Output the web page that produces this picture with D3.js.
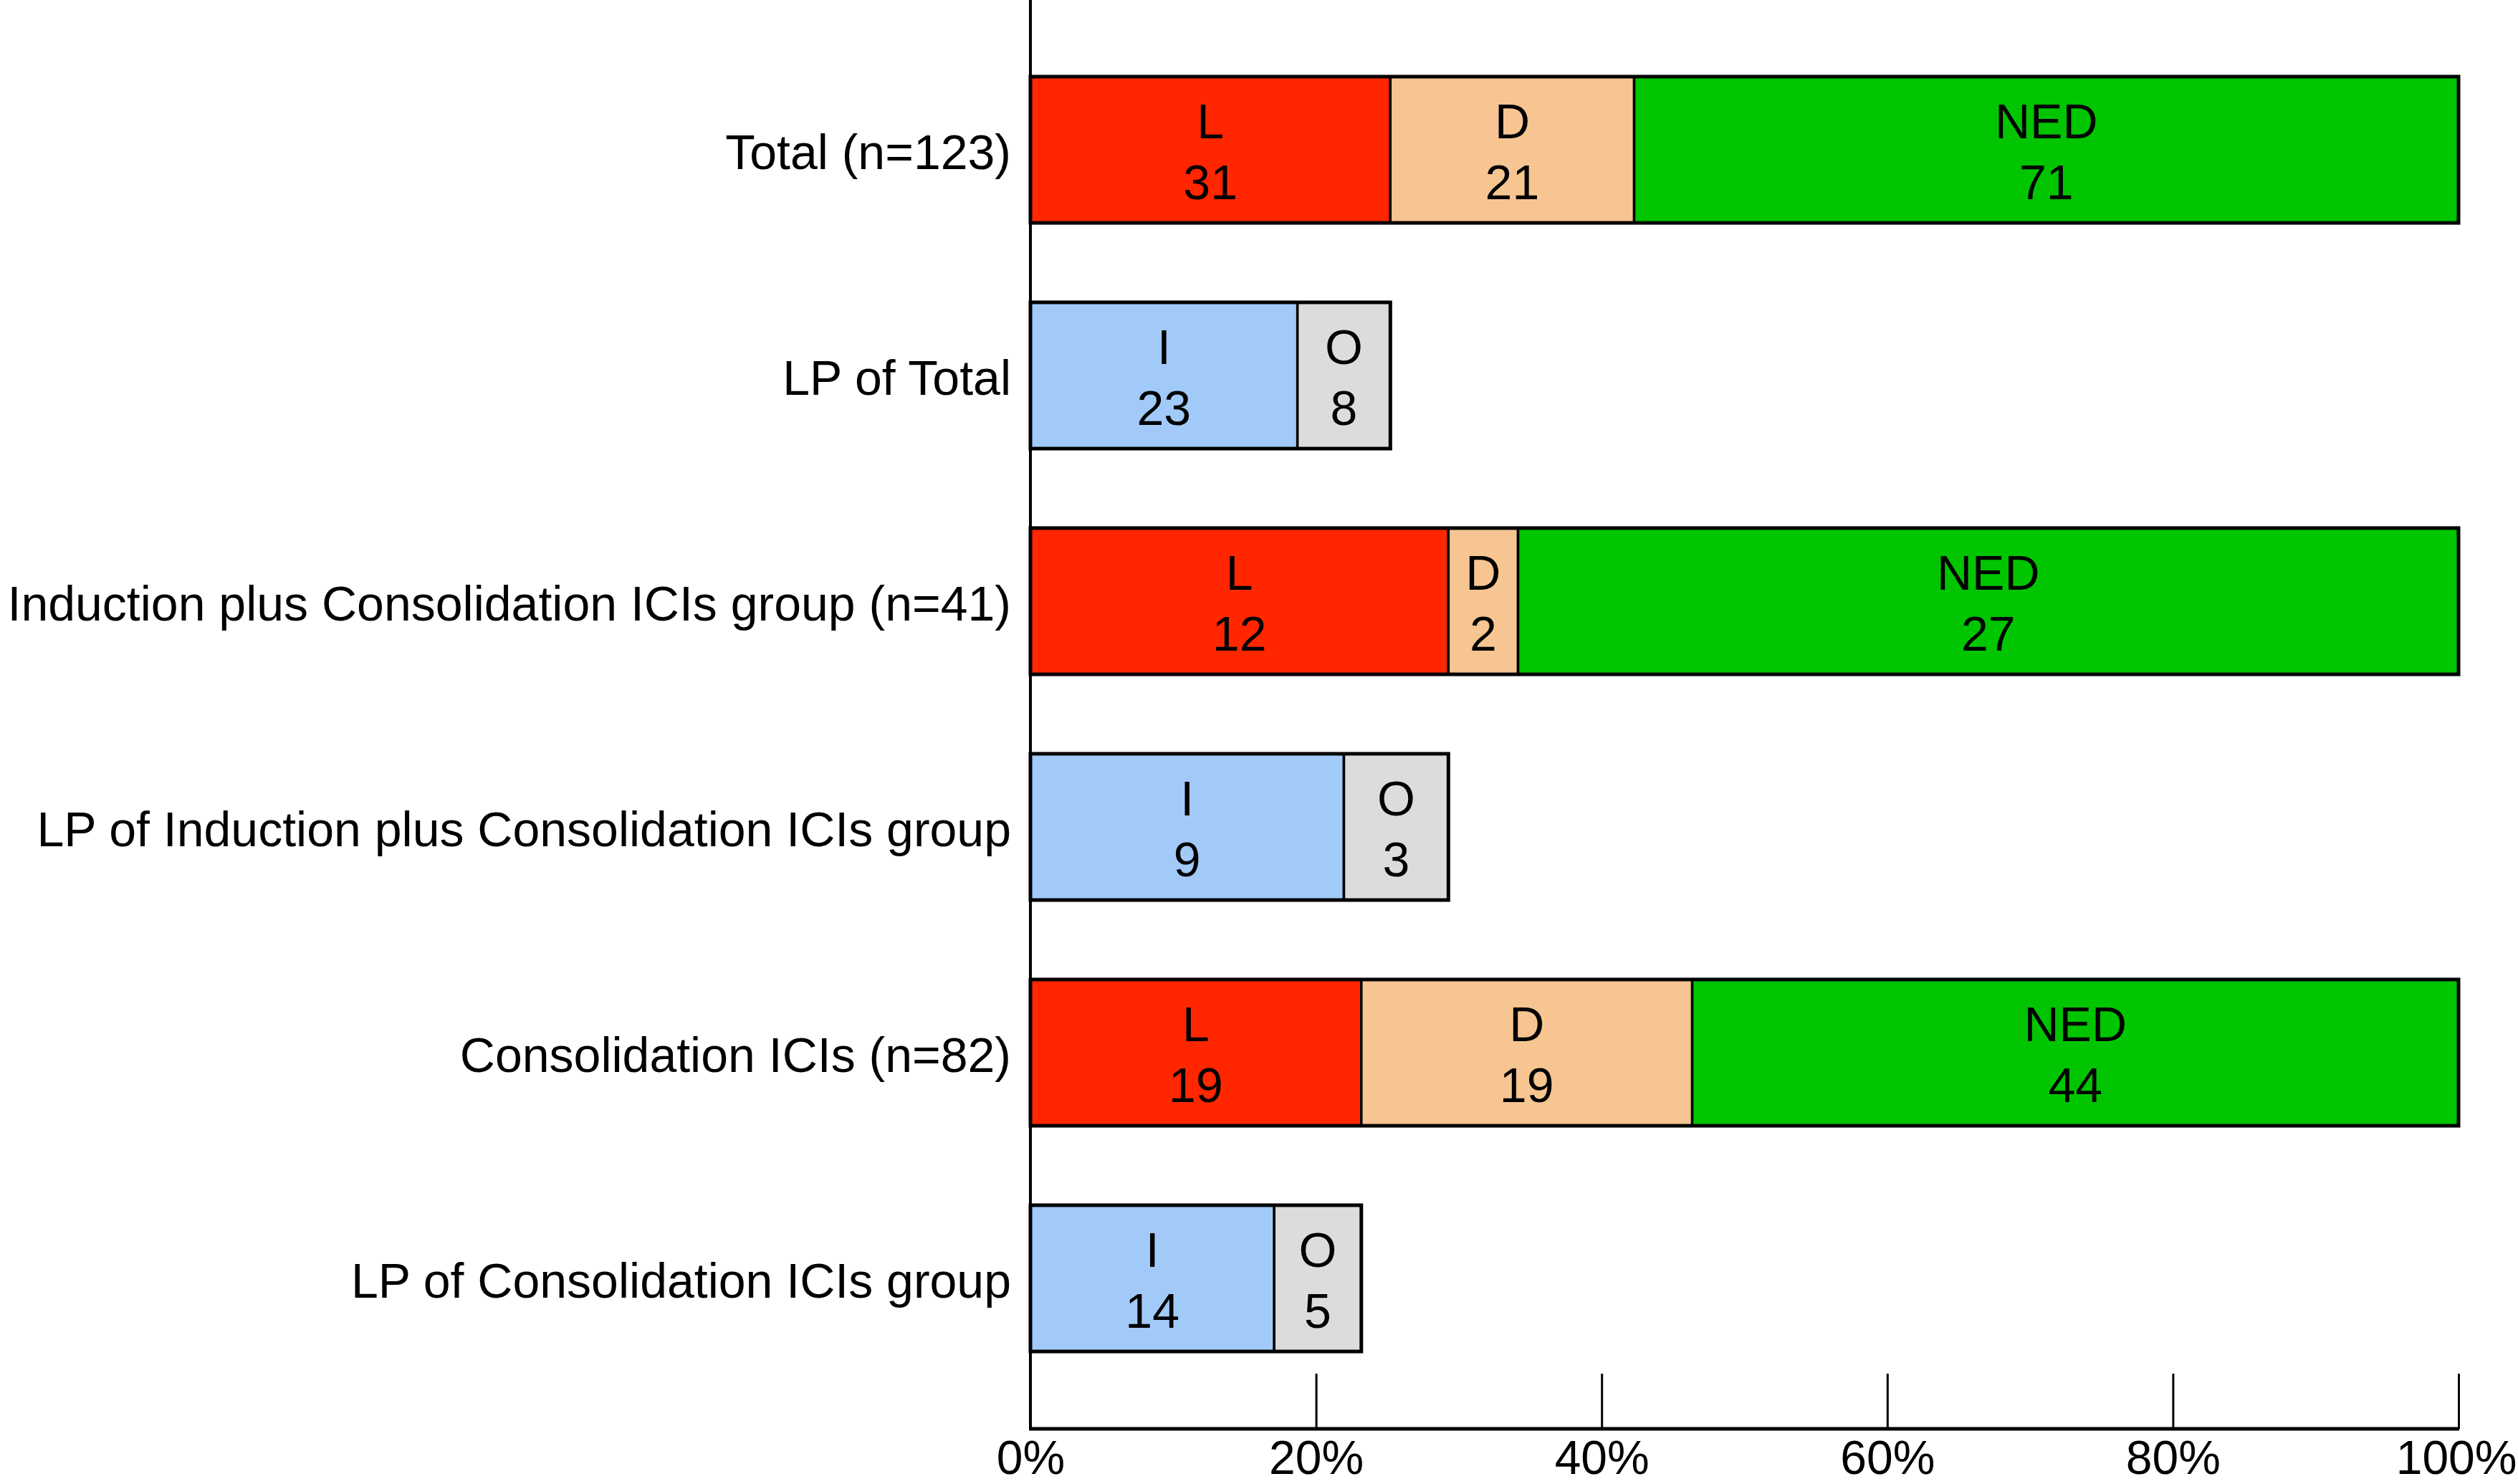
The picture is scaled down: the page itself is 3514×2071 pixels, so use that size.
<!DOCTYPE html>
<html>
<head>
<meta charset="utf-8">
<script src="https://cdn.jsdelivr.net/npm/d3@7"></script>
<style>
html,body{margin:0;padding:0;background:#fff;}
svg{display:block;}
text{font-family:"Liberation Sans",Arial,sans-serif;fill:#000;}
</style>
</head>
<body>
<svg id="chart" width="3514" height="2071"></svg>
<script>
// ---- data ----
const categories = [
  "Total (n=123)",
  "LP of Total",
  "Induction plus Consolidation ICIs group (n=41)",
  "LP of Induction plus Consolidation ICIs group",
  "Consolidation ICIs (n=82)",
  "LP of Consolidation ICIs group"
];
const groupN = [123, 123, 41, 41, 82, 82];
const segmentKeys = [
  ["L", "D", "NED"],
  ["I", "O"],
  ["L", "D", "NED"],
  ["I", "O"],
  ["L", "D", "NED"],
  ["I", "O"]
];
const segmentCounts = [
  [31, 21, 71],
  [23, 8],
  [12, 2, 27],
  [9, 3],
  [19, 19, 44],
  [14, 5]
];
const tickValues = [0, 20, 40, 60, 80, 100];
const tickLabels = ["0%", "20%", "40%", "60%", "80%", "100%"];
const colorKeys = ["L", "D", "NED", "I", "O"];
const colorValues = ["#FF2600", "#F6C592", "#00C500", "#A1CAF9", "#DCDCDC"];

// ---- layout ----
const W = 3514;
const svg = d3.select("#chart");
const x = d3.scaleLinear().domain([0, 100]).range([1438, 3431]);
const y = d3.scaleBand().domain(categories).range([51.5, 1941.5]).paddingInner(0.352).paddingOuter(0.176);
const color = d3.scaleOrdinal().domain(colorKeys).range(colorValues);
const baseY = 1994;

// build stacked segments
const rows = categories.map((c, i) => {
  let acc = 0;
  const segs = segmentCounts[i].map((v, j) => {
    const p0 = acc / groupN[i] * 100;
    acc += v;
    const p1 = acc / groupN[i] * 100;
    return {cat: c, key: segmentKeys[i][j], value: v, p0, p1};
  });
  return {cat: c, segs, total: acc / groupN[i] * 100};
});

// x axis ticks
const xAxis = d3.axisBottom(x).tickValues(tickValues).tickSize(0).tickFormat((d, i) => tickLabels[i]);
const gx = svg.append("g").attr("transform", `translate(0,${baseY})`).call(xAxis);
gx.select(".domain").remove();
gx.selectAll(".tick text").attr("font-size", 66).attr("dy", 0).attr("y", 63)
  .attr("font-family", "'Liberation Sans', Arial, sans-serif").attr("fill", "#000");
// keep the last label inside the picture
gx.selectAll(".tick text").each(function(d) {
  const bb = this.getBBox();
  const right = x(d) + bb.width / 2;
  if (right > W - 2) d3.select(this).attr("x", (W - 2) - right);
});
gx.selectAll(".tick").append("line").attr("y1", -77).attr("y2", 0).attr("stroke", "#000").attr("stroke-width", 3);

// bars
const barG = svg.append("g");
rows.forEach(r => {
  const g = barG.append("g");
  g.selectAll("rect.seg").data(r.segs).join("rect")
    .attr("class", "seg")
    .attr("x", d => x(d.p0)).attr("width", d => x(d.p1) - x(d.p0))
    .attr("y", y(r.cat)).attr("height", y.bandwidth())
    .attr("fill", d => color(d.key))
    .attr("stroke", "#000").attr("stroke-width", 3.5);
  // outer border
  g.append("rect")
    .attr("x", x(0)).attr("width", x(r.total) - x(0))
    .attr("y", y(r.cat)).attr("height", y.bandwidth())
    .attr("fill", "none").attr("stroke", "#000").attr("stroke-width", 5);
  const cy = y(r.cat) + y.bandwidth() / 2;
  const t = g.selectAll("text.lab").data(r.segs).join("text")
    .attr("class", "lab")
    .attr("text-anchor", "middle").attr("font-size", 68);
  t.append("tspan").attr("x", d => (x(d.p0) + x(d.p1)) / 2).attr("y", cy - 16).text(d => d.key);
  t.append("tspan").attr("x", d => (x(d.p0) + x(d.p1)) / 2).attr("y", cy + 69).text(d => d.value);
});

// category labels
svg.append("g").selectAll("text").data(categories).join("text")
  .attr("x", 1411).attr("y", d => y(d) + y.bandwidth() / 2 + 27)
  .attr("text-anchor", "end").attr("font-size", 68)
  .text(d => d);

// axes lines
svg.append("line").attr("x1", x(0)).attr("x2", x(0)).attr("y1", 0).attr("y2", baseY + 2)
  .attr("stroke", "#000").attr("stroke-width", 4);
svg.append("line").attr("x1", x(0) - 2).attr("x2", x(100) + 1).attr("y1", baseY).attr("y2", baseY)
  .attr("stroke", "#000").attr("stroke-width", 5);
</script>
</body>
</html>
